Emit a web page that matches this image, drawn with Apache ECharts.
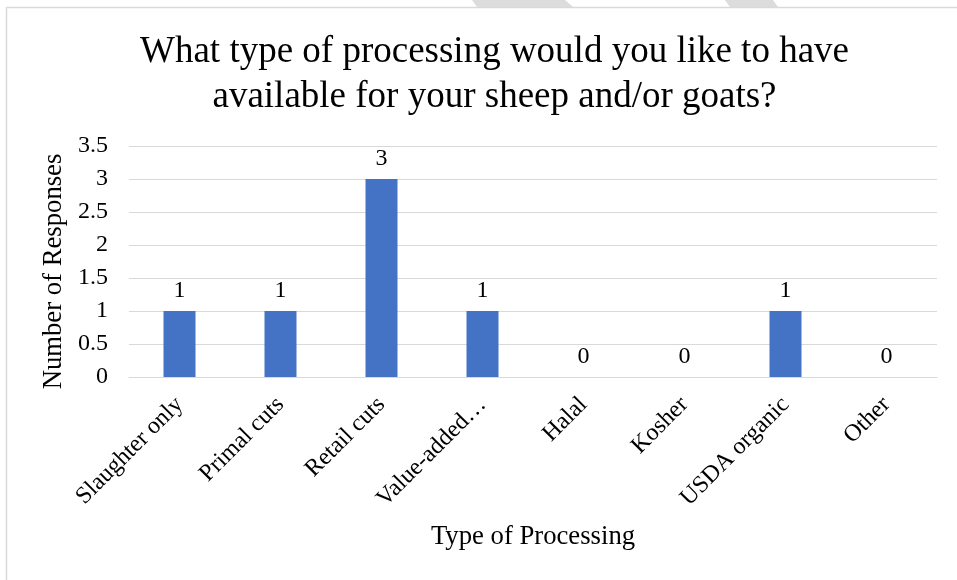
<!DOCTYPE html>
<html>
<head>
<meta charset="utf-8">
<script src="https://cdn.jsdelivr.net/npm/echarts@6/dist/echarts.min.js"></script>
<style>
html,body{margin:0;padding:0;background:#fff;}
#c{width:957px;height:580px;}
</style>
</head>
<body>
<div id="c"></div>
<script>
const titleText = 'What type of processing would you like to have\navailable for your sheep and/or goats?';
const categories = ['Slaughter only', 'Primal cuts', 'Retail cuts', 'Value-added…', 'Halal', 'Kosher', 'USDA organic', 'Other'];
const responses = [1, 1, 3, 1, 0, 0, 1, 0];
const yTicks = [0, 0.5, 1, 1.5, 2, 2.5, 3, 3.5];
const xAxisName = 'Type of Processing';
const yAxisName = 'Number of Responses';

const serif = '"Liberation Serif", "Times New Roman", serif';
const chart = echarts.init(document.getElementById('c'));
chart.setOption({
  animation: false,
  backgroundColor: '#fff',
  title: {
    text: titleText,
    left: 489.5,
    textAlign: 'center',
    top: 25,
    textStyle: { fontFamily: serif, fontSize: 37, fontWeight: 'normal', color: '#000', lineHeight: 45 }
  },
  graphic: [
    { type: 'polygon', shape: { points: [[472,0],[565,0],[573,7],[477,7]] }, style: { fill: '#dcdcdc' } },
    { type: 'polygon', shape: { points: [[725,0],[773,0],[778,7],[730,7]] }, style: { fill: '#dcdcdc' } },
    { type: 'rect', shape: { x: 6.5, y: 7.5, width: 1000, height: 1000 }, style: { fill: 'none', stroke: '#d9d9d9', lineWidth: 1.5 } }
  ],
  grid: { left: 129, right: 20, top: 146, bottom: 203, containLabel: false },
  xAxis: {
    type: 'category',
    data: categories,
    name: xAxisName,
    nameLocation: 'middle',
    nameGap: 146,
    nameTextStyle: { fontFamily: serif, fontSize: 26.7, color: '#000' },
    axisLine: { show: true, lineStyle: { color: '#d9d9d9', width: 1 } },
    axisTick: { show: false },
    axisLabel: { rotate: 45, interval: 0, margin: 24, fontFamily: serif, fontSize: 24, color: '#000' }
  },
  yAxis: {
    type: 'value',
    min: 0,
    max: 3.5,
    interval: 0.5,
    name: yAxisName,
    nameLocation: 'middle',
    nameGap: 45,
    nameTextStyle: { fontFamily: serif, fontSize: 26.7, color: '#000', padding: [0, 20, 0, 0] },
    axisLine: { show: false },
    axisTick: { show: false },
    axisLabel: {
      margin: 21, fontFamily: serif, fontSize: 24, color: '#000',
      formatter: function (v) { return yTicks.indexOf(v) >= 0 ? String(v) : ''; }
    },
    splitLine: { lineStyle: { color: '#d9d9d9', width: 1 } }
  },
  series: [{
    type: 'bar',
    data: responses,
    barWidth: 32,
    itemStyle: { color: '#4472c4' },
    label: { show: true, position: 'top', distance: 8, fontFamily: serif, fontSize: 24, color: '#000' }
  }]
});
</script>
</body>
</html>
